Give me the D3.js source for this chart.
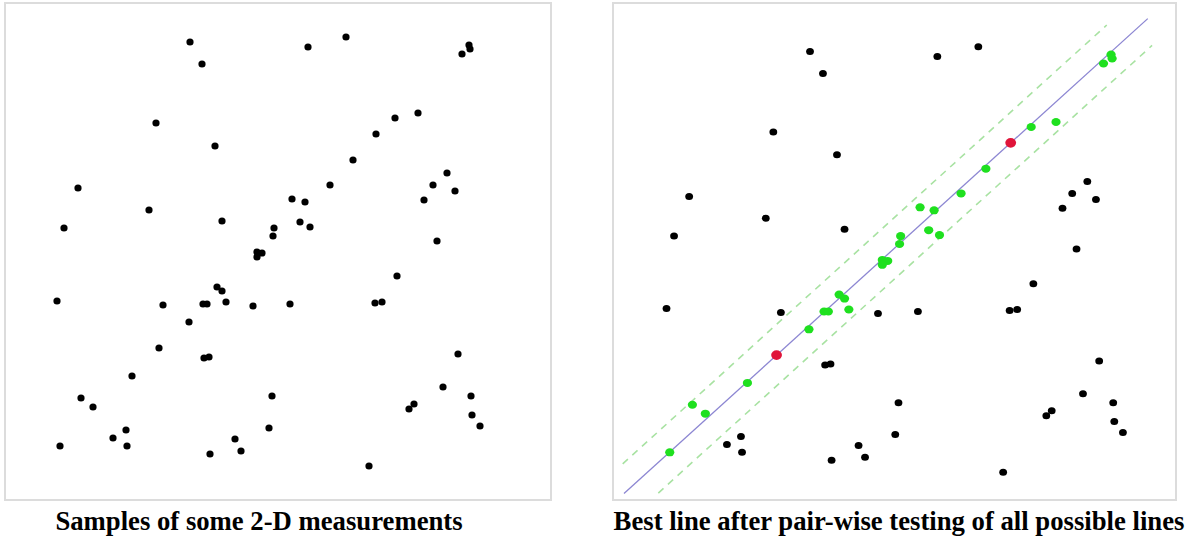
<!DOCTYPE html>
<head>
  <meta charset="utf-8">
  <script src="https://d3js.org/d3.v7.min.js"></script>
  <style>
    body {
      margin: 0;
      background: #fff;
    }

    .frame {
      fill: #fff;
      stroke: #dcdcdc;
      stroke-width: 2px;
    }

    .caption {
      font-family: "Liberation Serif", "Times New Roman", serif;
      font-weight: bold;
      font-size: 26.7px;
      fill: #000;
    }
  </style>
</head>

<body>
  <div id="vis"></div>
  <script>

    // measured sample positions (same set in both panels)
    var sampleX = [185, 197, 151, 210, 73, 144, 217, 59, 269, 268, 252, 257, 252, 303, 341, 464, 465, 457, 413, 390,
      371, 348, 325, 287, 300, 442, 428, 450, 419, 295, 305, 432, 52, 158, 212, 217, 198, 202, 221, 248,
      184, 154, 199, 204, 127, 76, 88, 121, 108, 122, 55, 230, 236, 205, 267, 264, 392, 285, 370, 377,
      453, 438, 466, 467, 475, 404, 409, 364];
    var sampleY = [458, 436, 377, 354, 312, 290, 279, 272, 272, 264, 248, 247, 243, 453, 463, 455, 451, 446, 387, 382,
      366, 340, 315, 301, 298, 327, 315, 309, 300, 278, 273, 259, 199, 195, 213, 209, 196, 196, 198, 194,
      178, 152, 142, 143, 124, 102, 93, 70, 62, 54, 54, 61, 49, 46, 104, 72, 224, 196, 197, 198,
      146, 113, 104, 85, 74, 91, 96, 34];

    // the pair of samples that define the best line
    var bestPair = [20, 41];
    var bandHalf = 31;

    // x extent of drawn lines: [solid, upper dashed, lower dashed]
    var lineStart = [12.6, 11.4, 44.4];
    var lineEnd = [498, 460, 502];
    var lineOffset = [0, bandHalf, -bandHalf];

    var captions = ["Samples of some 2-D measurements", "Best line after pair-wise testing of all possible lines"];

    var width = 1193, height = 537;

    var svg = d3.select("#vis")
      .append("svg")
      .attr("width", width)
      .attr("height", height);

    var data = sampleX.map(function (x, i) { return { x: x, y: sampleY[i], i: i }; });

    ////////// left panel //////////

    var xL = d3.scaleLinear().domain([0, 546]).range([5, 551]);
    var yL = d3.scaleLinear().domain([0, 497]).range([500, 3]);

    svg.append("rect")
      .attr("class", "frame")
      .attr("x", 5).attr("y", 3)
      .attr("width", 546).attr("height", 497);

    svg.append("g")
      .selectAll("circle")
      .data(data)
      .enter().append("circle")
      .attr("cx", d => xL(d.x))
      .attr("cy", d => yL(d.y))
      .attr("r", 3.6)
      .attr("fill", "#000");

    svg.append("text")
      .attr("class", "caption")
      .attr("x", 259)
      .attr("y", 530)
      .attr("text-anchor", "middle")
      .text(captions[0]);

    ////////// right panel //////////

    var xR = d3.scaleLinear().domain([0, 519]).range([610.4, 1170.4]);
    var yR = d3.scaleLinear().domain([0, 497]).range([505.9, 12.9]);

    svg.append("rect")
      .attr("class", "frame")
      .attr("x", 613).attr("y", 3)
      .attr("width", 563).attr("height", 497);

    var p1 = data[bestPair[0]], p2 = data[bestPair[1]];
    var slope = (p1.y - p2.y) / (p1.x - p2.x);
    function lineY(x) { return p2.y + slope * (x - p2.x); }

    data.forEach(function (d) {
      if (bestPair.indexOf(d.i) >= 0) d.kind = "pair";
      else if (Math.abs(d.y - lineY(d.x)) <= bandHalf) d.kind = "in";
      else d.kind = "out";
    });

    var lines = lineStart.map(function (s, k) {
      return [[s, lineY(s) + lineOffset[k]], [lineEnd[k], lineY(lineEnd[k]) + lineOffset[k]]];
    });

    var path = d3.line()
      .x(d => xR(d[0]))
      .y(d => yR(d[1]));

    var lineG = svg.append("g");

    lineG.selectAll("path")
      .data(lines)
      .enter().append("path")
      .attr("d", path)
      .attr("fill", "none")
      .attr("stroke", (d, k) => k == 0 ? "#8c86d2" : "#a8e2a2")
      .attr("stroke-width", (d, k) => k == 0 ? 1.3 : 1.6)
      .attr("stroke-dasharray", (d, k) => k == 0 ? null : "7,6");

    var order = { out: 0, in: 1, pair: 2 };
    var ptsR = data.slice().sort((a, b) => order[a.kind] - order[b.kind]);

    svg.append("g")
      .selectAll("ellipse")
      .data(ptsR)
      .enter().append("ellipse")
      .attr("cx", d => xR(d.x))
      .attr("cy", d => yR(d.y))
      .attr("rx", d => d.kind == "pair" ? 5.4 : d.kind == "in" ? 4.6 : 3.9)
      .attr("ry", d => d.kind == "pair" ? 4.8 : d.kind == "in" ? 4.0 : 3.5)
      .attr("fill", d => d.kind == "pair" ? "#e0143a" : d.kind == "in" ? "#1fe01f" : "#000");

    svg.append("text")
      .attr("class", "caption")
      .attr("x", 899)
      .attr("y", 530)
      .attr("text-anchor", "middle")
      .text(captions[1]);

  </script>
</body>
